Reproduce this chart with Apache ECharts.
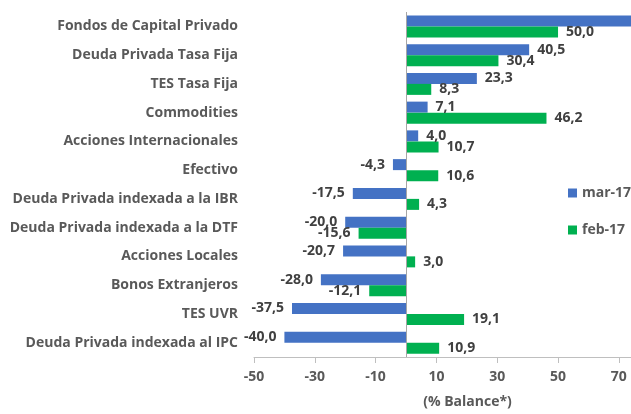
<!DOCTYPE html>
<html>
<head>
<meta charset="utf-8">
<script src="https://cdn.jsdelivr.net/npm/echarts@6/dist/echarts.min.js"></script>
<style>
  html, body { margin: 0; padding: 0; background: #fff; }
  #chart { width: 631px; height: 414px; }
</style>
</head>
<body>
<div id="chart"></div>
<script>
// categorias (de arriba hacia abajo)
const categories = [
  'Fondos de Capital Privado',
  'Deuda Privada Tasa Fija',
  'TES Tasa Fija',
  'Commodities',
  'Acciones Internacionales',
  'Efectivo',
  'Deuda Privada indexada a la IBR',
  'Deuda Privada indexada a la DTF',
  'Acciones Locales',
  'Bonos Extranjeros',
  'TES UVR',
  'Deuda Privada indexada al IPC'
]
const seriesNames = ['mar-17', 'feb-17']
const mar17 = [76, 40.5, 23.3, 7.1, 4.0, -4.3, -17.5, -20.0, -20.7, -28.0, -37.5, -40.0]
const feb17 = [50.0, 30.4, 8.3, 46.2, 10.7, 10.6, 4.3, -15.6, 3.0, -12.1, 19.1, 10.9]
const xTicks = [-50, -30, -10, 10, 30, 50, 70]

const AXIS_MIN = -50
const AXIS_MAX = 74
const textColor = '#595959'
const fontFamily = '"Open Sans", "Liberation Sans", sans-serif'

const fmt = (v) => v.toFixed(1).replace('.', ',')

// etiqueta a la derecha o izquierda segun el signo; oculta si se sale del eje
const toItems = (values) => values.map((v) => ({
  value: v,
  label: {
    show: v <= AXIS_MAX,
    position: v < 0 ? 'left' : 'right'
  }
}))

const chart = echarts.init(document.getElementById('chart'), null, { renderer: 'canvas' })

const barLabel = {
  show: true,
  distance: 8,
  formatter: (p) => fmt(p.value),
  color: '#404040',
  fontFamily: fontFamily,
  fontWeight: 'bold',
  fontSize: 14
}

chart.setOption({
  animation: false,
  grid: { left: 254, right: 0, top: 12, bottom: 52, containLabel: false },
  legend: {
    orient: 'vertical',
    left: 563,
    top: 181,
    itemWidth: 9,
    itemHeight: 9,
    itemGap: 23,
    icon: 'rect',
    textStyle: { color: textColor, fontFamily: fontFamily, fontWeight: 'bold', fontSize: 14 },
    data: seriesNames
  },
  xAxis: {
    type: 'value',
    min: AXIS_MIN,
    max: AXIS_MAX,
    interval: 20,
    splitLine: { show: false },
    axisLine: { show: true, onZero: false, lineStyle: { color: '#bfbfbf' } },
    axisTick: { show: true, length: 6, lineStyle: { color: '#bfbfbf' } },
    axisLabel: {
      color: textColor,
      fontFamily: fontFamily,
      fontWeight: 'bold',
      fontSize: 14,
      margin: 13,
      showMaxLabel: false,
      formatter: (v) => (xTicks.includes(v) ? String(v) : '')
    },
    name: '(% Balance*)',
    nameLocation: 'middle',
    nameGap: 38,
    nameTextStyle: {
      color: textColor,
      fontFamily: fontFamily,
      fontWeight: 'bold',
      fontSize: 14,
      padding: [0, 0, 0, 50]
    }
  },
  yAxis: {
    type: 'category',
    inverse: true,
    data: categories,
    axisLine: { show: false },
    axisTick: { show: false },
    axisLabel: {
      color: textColor,
      fontFamily: fontFamily,
      fontWeight: 'bold',
      fontSize: 14,
      margin: 16
    }
  },
  series: [
    {
      name: seriesNames[0],
      type: 'bar',
      data: toItems(mar17),
      barWidth: 11,
      barGap: '0%',
      itemStyle: { color: '#4472C4' },
      label: barLabel,
      markLine: {
        silent: true,
        symbol: 'none',
        label: { show: false },
        lineStyle: { color: '#a6a6a6', type: 'solid', width: 1 },
        data: [{ xAxis: 0 }]
      }
    },
    {
      name: seriesNames[1],
      type: 'bar',
      data: toItems(feb17),
      barWidth: 11,
      barGap: '0%',
      itemStyle: { color: '#00B050' },
      label: barLabel
    }
  ]
})
</script>
</body>
</html>
